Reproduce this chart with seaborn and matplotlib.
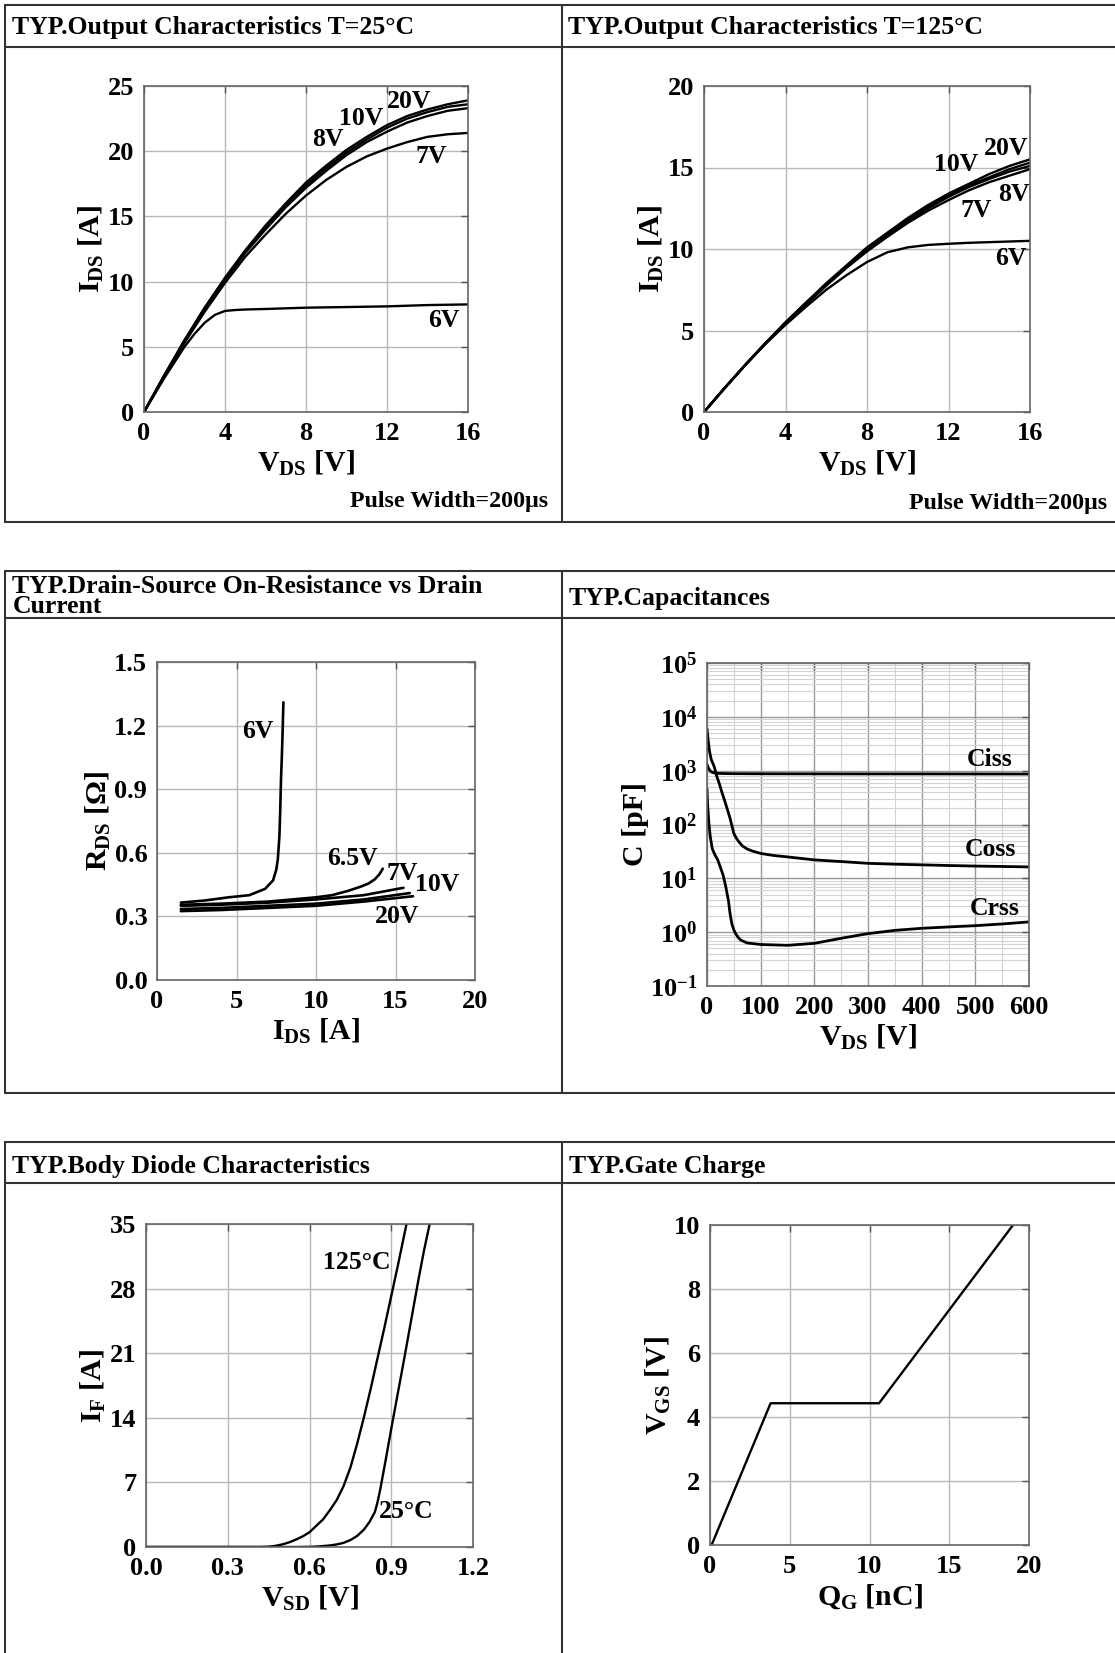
import numpy as np
import pandas as pd
import matplotlib
matplotlib.use('Agg')
import matplotlib.pyplot as plt
import seaborn as sns
from matplotlib.lines import Line2D
from matplotlib.ticker import FuncFormatter, MultipleLocator, LogLocator, NullFormatter

W, H = 1115, 1653

# --- Output characteristics, 25 C ---
vds = [0, 1, 2, 3, 4, 5, 6, 7, 8, 9, 10, 11, 12, 13, 14, 15, 16]
out25 = {
    '20V': [0, 2.8, 5.5, 8.0, 10.3, 12.4, 14.3, 16.0, 17.6, 18.9, 20.1, 21.1, 22.0, 22.7, 23.2, 23.6, 23.9],
    '10V': [0, 2.8, 5.5, 8.0, 10.2, 12.3, 14.2, 15.9, 17.4, 18.7, 19.9, 20.9, 21.8, 22.5, 23.0, 23.4, 23.6],
    '8V': [0, 2.8, 5.4, 7.9, 10.1, 12.2, 14.0, 15.7, 17.2, 18.5, 19.7, 20.7, 21.5, 22.2, 22.7, 23.1, 23.3],
    '7V': [0, 2.7, 5.3, 7.7, 9.9, 11.9, 13.6, 15.2, 16.6, 17.8, 18.8, 19.6, 20.2, 20.7, 21.1, 21.3, 21.4],
}
vds_6v = [0, 1, 2, 2.5, 3, 3.5, 4, 4.5, 5, 6, 8, 10, 12, 14, 16]
out25_6v = [0, 2.6, 5.0, 6.0, 6.85, 7.45, 7.75, 7.82, 7.86, 7.9, 8.0, 8.05, 8.1, 8.2, 8.25]
out25_labels = {'20V': (13.1, 23.8), '10V': (10.7, 22.5), '8V': (9.1, 20.9),
                '7V': (14.2, 19.6), '6V': (14.8, 7.05)}

# --- Output characteristics, 125 C ---
out125 = {
    '20V': [0, 1.45, 2.85, 4.2, 5.5, 6.7, 7.9, 9.0, 10.1, 11.0, 11.9, 12.7, 13.4, 14.0, 14.6, 15.1, 15.5],
    '10V': [0, 1.45, 2.85, 4.2, 5.5, 6.7, 7.85, 8.95, 10.0, 10.9, 11.8, 12.6, 13.3, 13.9, 14.4, 14.9, 15.3],
    '8V': [0, 1.45, 2.85, 4.2, 5.45, 6.65, 7.8, 8.9, 9.95, 10.85, 11.7, 12.5, 13.2, 13.8, 14.3, 14.75, 15.1],
    '7V': [0, 1.45, 2.85, 4.2, 5.45, 6.6, 7.75, 8.85, 9.85, 10.75, 11.6, 12.35, 13.0, 13.6, 14.1, 14.5, 14.9],
    '6V': [0, 1.45, 2.85, 4.15, 5.35, 6.45, 7.5, 8.4, 9.2, 9.8, 10.1, 10.25, 10.32, 10.38, 10.42, 10.46, 10.5],
}
out125_labels = {'20V': (14.84, 16.15), '10V': (12.37, 15.16), '8V': (15.2, 13.35),
                 '7V': (13.37, 12.36), '6V': (15.05, 9.44)}

# --- On-resistance vs drain current ---
rds_curves = {
    '6V': ([1.5, 3, 4.5, 5.8, 6.8, 7.3, 7.5, 7.6, 7.7, 7.75, 7.8, 7.85, 7.9, 7.95],
           [0.365, 0.375, 0.39, 0.40, 0.43, 0.47, 0.52, 0.57, 0.68, 0.80, 0.95, 1.05, 1.17, 1.31]),
    '6.5V': ([1.5, 4, 7, 10, 11, 12, 12.8, 13.3, 13.7, 14.0, 14.2],
             [0.355, 0.36, 0.37, 0.39, 0.40, 0.42, 0.44, 0.455, 0.475, 0.50, 0.525]),
    '7V': ([1.5, 4, 7, 10, 13, 15.5], [0.35, 0.355, 0.365, 0.38, 0.40, 0.435]),
    '10V': ([1.5, 4, 7, 10, 13, 15.9], [0.335, 0.34, 0.35, 0.36, 0.38, 0.41]),
    '20V': ([1.5, 4, 7, 10, 13, 16.1], [0.325, 0.33, 0.34, 0.35, 0.37, 0.395]),
}
rds_labels = {'6V': (6.35, 1.17), '6.5V': (12.3, 0.575), '7V': (15.4, 0.50),
              '10V': (17.6, 0.45), '20V': (15.07, 0.30)}

# --- Capacitances ---
ciss_v = [0, 3, 6, 10, 15, 20, 30, 50, 100, 200, 300, 400, 500, 600]
ciss_c = [1300, 1100, 990, 930, 900, 890, 885, 880, 875, 872, 870, 870, 868, 866]
coss_v = [0, 2, 4.65, 8, 13.3, 18, 23, 28, 33, 38, 43, 47, 50, 55, 60, 66, 75, 85, 100,
          125, 150, 200, 250, 300, 350, 400, 450, 500, 550, 600]
coss_c = [6000, 3800, 2300, 1600, 1200, 800, 570, 390, 275, 190, 130, 90, 68, 55, 47, 40, 35, 32, 29,
          26.5, 25, 22, 20.5, 19, 18.3, 17.8, 17.3, 16.9, 16.6, 16.3]
crss_v = [0, 1, 3.3, 6, 10, 15, 20, 25, 30, 35, 40, 43, 46.5, 50, 53, 58, 63, 75, 100,
          150, 200, 250, 300, 350, 400, 450, 500, 550, 600]
crss_c = [460, 250, 112, 60, 35, 27, 22, 16, 11.5, 7, 3.8, 2.2, 1.4, 1.1, 0.95, 0.8, 0.71, 0.63, 0.59,
          0.57, 0.62, 0.77, 0.94, 1.08, 1.18, 1.25, 1.32, 1.42, 1.55]
cap_labels = {'Ciss': (526, 1580), 'Coss': (528, 35), 'Crss': (536, 2.8)}

# --- Body diode ---
diode125_v = [0, 0.42, 0.45, 0.475, 0.50, 0.525, 0.55, 0.575, 0.60, 0.625, 0.65, 0.675, 0.70,
              0.725, 0.75, 0.775, 0.80, 0.825, 0.85, 0.875, 0.90, 0.925, 0.956]
diode125_i = [0, 0, 0.03, 0.12, 0.28, 0.5, 0.8, 1.15, 1.6, 2.3, 3.0, 4.0, 5.1,
              6.6, 8.6, 11.2, 14.1, 17.2, 20.5, 23.8, 27.2, 30.6, 35]
diode25_v = [0, 0.55, 0.60, 0.625, 0.65, 0.675, 0.70, 0.725, 0.75, 0.775, 0.80, 0.82, 0.84, 0.85,
             0.86, 0.87, 0.88, 0.90, 0.925, 0.95, 0.975, 1.0, 1.02, 1.041]
diode25_i = [0, 0, 0.02, 0.05, 0.1, 0.17, 0.28, 0.45, 0.75, 1.2, 1.9, 2.7, 3.8, 4.9,
             6.3, 7.9, 9.5, 12.8, 16.8, 20.8, 24.9, 29.0, 32.1, 35]
diode_labels = {'125°C': (0.775, 30.8), '25°C': (0.956, 3.9)}

# --- Gate charge ---
qg = [0.1, 3.8, 10.6, 19.0]
vgs = [0, 4.43, 4.43, 10.0]

sns.set_theme(style='white')
plt.rcParams['font.family'] = ['Liberation Serif', 'DejaVu Serif']
plt.rcParams['font.weight'] = 'bold'
plt.rcParams['axes.labelweight'] = 'bold'
plt.rcParams['text.color'] = 'black'
plt.rcParams['mathtext.fontset'] = 'custom'
plt.rcParams['mathtext.rm'] = 'Liberation Serif:bold'
plt.rcParams['mathtext.it'] = 'Liberation Serif:bold:italic'
plt.rcParams['mathtext.bf'] = 'Liberation Serif:bold'

TICK = 19
LAB = 21.5
ANN = 18.5
TITLE = 18.5

fig = plt.figure(figsize=(W / 100, H / 100), dpi=100)


def add_ax(l, t, r, b):
    return fig.add_axes([l / W, 1 - b / H, (r - l) / W, (b - t) / H])


def hline(y, x0=5, x1=W):
    fig.add_artist(Line2D([x0 / W, x1 / W], [1 - y / H, 1 - y / H], color='#333', lw=1.5))


def vline(x, y0, y1):
    fig.add_artist(Line2D([x / W, x / W], [1 - y0 / H, 1 - y1 / H], color='#333', lw=1.5))


def ftext(x, y, s, size=TITLE, ha='left'):
    fig.text(x / W, 1 - y / H, s, fontsize=size, ha=ha, va='baseline')


def style(ax, xlabel, ylabel):
    ax.grid(True, color='#b8b8b8', lw=1)
    for s in ax.spines.values():
        s.set_color('#666')
        s.set_linewidth(1.2)
    ax.tick_params(direction='in', length=5, width=1, color='#555', top=True, right=True,
                   labelsize=TICK, labelcolor='black')
    ax.tick_params(axis='y', pad=7)
    ax.tick_params(axis='x', pad=7)
    plt.setp(ax.get_xticklabels() + ax.get_yticklabels(), fontweight='bold')
    ax.set_xlabel(xlabel, fontsize=LAB, labelpad=3, color='black', fontweight='bold')
    ax.set_ylabel(ylabel, fontsize=LAB, labelpad=1, color='black', fontweight='bold')


def label(ax, d, size=ANN):
    for k, (x, y) in d.items():
        ax.text(x, y, k, fontsize=size, ha='center', va='center', color='black')


# panel boxes
for top, head, bot in [(5, 47, 522), (570.5, 618, 1093), (1142, 1183, 1700)]:
    hline(top)
    hline(head)
    hline(bot)
    vline(5, top, bot)
    vline(561.5, top, bot)

ftext(12.5, 34, 'TYP.Output Characteristics T=25°C')
ftext(568, 34, 'TYP.Output Characteristics T=125°C')
ftext(12.5, 593, 'TYP.Drain-Source On-Resistance vs Drain')
ftext(12.5, 613, 'Current')
ftext(569, 605, 'TYP.Capacitances')
ftext(12.5, 1173, 'TYP.Body Diode Characteristics')
ftext(569, 1173, 'TYP.Gate Charge')
ftext(548, 507, 'Pulse Width=200μs', size=17.25, ha='right')
ftext(1107, 508.5, 'Pulse Width=200μs', size=17.25, ha='right')

# 1. output characteristics 25C
ax1 = add_ax(144, 86, 468, 412)
df1 = pd.DataFrame([(v, i, k) for k, ys in out25.items() for v, i in zip(vds, ys)],
                   columns=['V', 'I', 'Vgs'])
sns.lineplot(data=df1, x='V', y='I', hue='Vgs', palette=['black'] * 4, legend=False,
             estimator=None, sort=False, lw=1.7, ax=ax1)
sns.lineplot(x=vds_6v, y=out25_6v, color='black', lw=1.7, estimator=None, sort=False, ax=ax1)
ax1.set_xlim(0, 16)
ax1.set_ylim(0, 25)
ax1.xaxis.set_major_locator(MultipleLocator(4))
ax1.yaxis.set_major_locator(MultipleLocator(5))
style(ax1, r'V$_{\mathrm{DS}}$ [V]', r'I$_{\mathrm{DS}}$ [A]')
label(ax1, out25_labels)

# 2. output characteristics 125C
ax2 = add_ax(704, 86, 1030, 412)
df2 = pd.DataFrame([(v, i, k) for k, ys in out125.items() for v, i in zip(vds, ys)],
                   columns=['V', 'I', 'Vgs'])
sns.lineplot(data=df2, x='V', y='I', hue='Vgs', palette=['black'] * 5, legend=False,
             estimator=None, sort=False, lw=1.7, ax=ax2)
ax2.set_xlim(0, 16)
ax2.set_ylim(0, 20)
ax2.xaxis.set_major_locator(MultipleLocator(4))
ax2.yaxis.set_major_locator(MultipleLocator(5))
style(ax2, r'V$_{\mathrm{DS}}$ [V]', r'I$_{\mathrm{DS}}$ [A]')
label(ax2, out125_labels)

# 3. on-resistance
ax3 = add_ax(157, 662, 475, 980)
for k, (xs, ys) in rds_curves.items():
    sns.lineplot(x=xs, y=ys, color='black', lw=1.9, estimator=None, sort=False, ax=ax3)
ax3.set_xlim(0, 20)
ax3.set_ylim(0, 1.5)
ax3.xaxis.set_major_locator(MultipleLocator(5))
ax3.yaxis.set_major_locator(MultipleLocator(0.3))
ax3.yaxis.set_major_formatter(FuncFormatter(lambda v, p: f'{v:.1f}'))
style(ax3, r'I$_{\mathrm{DS}}$ [A]', r'R$_{\mathrm{DS}}$ [Ω]')
label(ax3, rds_labels)

# 4. capacitances
ax4 = add_ax(707, 663, 1029, 986)
for xs, ys in [(ciss_v, ciss_c), (coss_v, coss_c), (crss_v, crss_c)]:
    sns.lineplot(x=xs, y=ys, color='black', lw=2.0, estimator=None, sort=False, ax=ax4)
ax4.set_yscale('log')
ax4.set_xlim(0, 600)
ax4.set_ylim(0.1, 1e5)
ax4.xaxis.set_major_locator(MultipleLocator(100))
ax4.xaxis.set_minor_locator(MultipleLocator(50))
ax4.yaxis.set_major_locator(LogLocator(base=10, numticks=10))
ax4.yaxis.set_minor_locator(LogLocator(base=10, subs=np.arange(2, 10), numticks=10))
ax4.yaxis.set_minor_formatter(NullFormatter())
ax4.yaxis.set_major_formatter(FuncFormatter(lambda v, p: r'$\mathrm{10^{%d}}$' % round(np.log10(v))))
style(ax4, r'V$_{\mathrm{DS}}$ [V]', 'C [pF]')
ax4.grid(True, which='major', color='#999', lw=1)
ax4.grid(True, which='minor', color='#d3d3d3', lw=0.8)
ax4.tick_params(which='minor', length=0)
label(ax4, cap_labels)

# 5. body diode
ax5 = add_ax(146, 1224, 473, 1547)
sns.lineplot(x=diode125_v, y=diode125_i, color='black', lw=1.7, estimator=None, sort=False, ax=ax5)
sns.lineplot(x=diode25_v, y=diode25_i, color='black', lw=1.7, estimator=None, sort=False, ax=ax5)
ax5.set_xlim(0, 1.2)
ax5.set_ylim(0, 35)
ax5.xaxis.set_major_locator(MultipleLocator(0.3))
ax5.xaxis.set_major_formatter(FuncFormatter(lambda v, p: f'{v:.1f}'))
ax5.yaxis.set_major_locator(MultipleLocator(7))
style(ax5, r'V$_{\mathrm{SD}}$ [V]', r'I$_{\mathrm{F}}$ [A]')
label(ax5, diode_labels)

# 6. gate charge
ax6 = add_ax(710, 1225, 1029, 1545)
sns.lineplot(x=qg, y=vgs, color='black', lw=1.7, estimator=None, sort=False, ax=ax6)
ax6.set_xlim(0, 20)
ax6.set_ylim(0, 10)
ax6.xaxis.set_major_locator(MultipleLocator(5))
ax6.yaxis.set_major_locator(MultipleLocator(2))
style(ax6, r'Q$_{\mathrm{G}}$ [nC]', r'V$_{\mathrm{GS}}$ [V]')

fig.savefig('out.png', dpi=100)
